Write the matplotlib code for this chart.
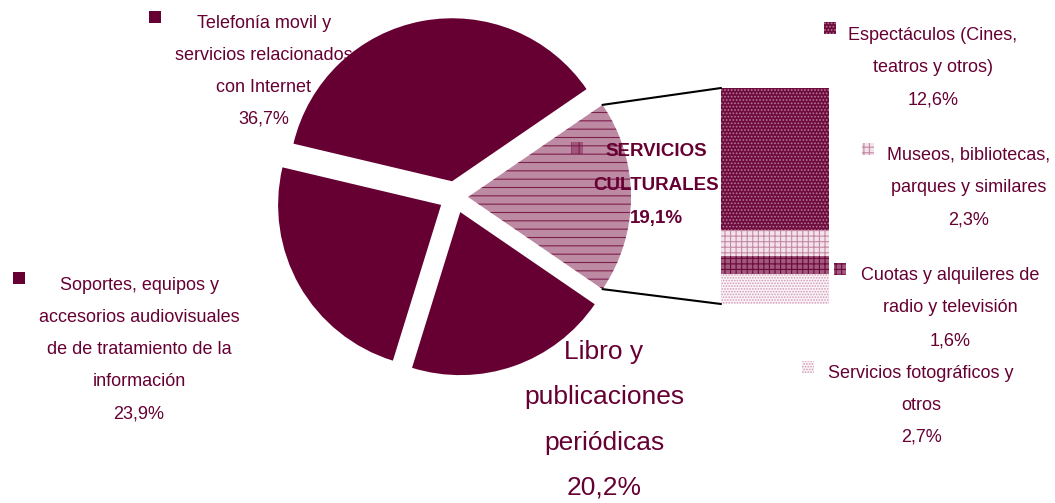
import matplotlib
matplotlib.use("Agg")
import matplotlib.pyplot as plt
import numpy as np
from matplotlib.patches import Rectangle, ConnectionPatch

# Pie: main groups of the spending
pie_labels = ["Telefonía movil y\nservicios relacionados\ncon Internet",
              "Soportes, equipos y\naccesorios audiovisuales\nde de tratamiento de la\ninformación",
              "Libro y\npublicaciones\nperiódicas",
              "SERVICIOS\nCULTURALES"]
pie_values = [36.7, 23.9, 20.2, 19.1]

# Bar: breakdown of "servicios culturales" (top to bottom)
bar_labels = ["Espectáculos (Cines,\nteatros y otros)",
              "Museos, bibliotecas,\nparques y similares",
              "Cuotas y alquileres de\nradio y televisión",
              "Servicios fotográficos y\notros"]
bar_values = [12.6, 2.3, 1.6, 2.7]

plt.rcParams["font.family"] = ["Liberation Sans", "DejaVu Sans"]
plt.rcParams["hatch.linewidth"] = 0.8

W, H = 1055, 503
maroon = "#660033"

fig = plt.figure(figsize=(W / 100, H / 100), dpi=100)
ax = fig.add_axes([0, 0, 1, 1])

# pixel layout, y measured from the top
cx, cy, rad = 455, 197, 163
half = pie_values[3] / sum(pie_values) * 360 / 2
wedges, _ = ax.pie(pie_values, center=(cx, cy), radius=rad,
                   colors=[maroon, maroon, maroon, "#bd8aa3"],
                   explode=[16, 16, 16, 13], startangle=-half,
                   counterclock=False, hatch=["", "", "", "--"], frame=True)
for w in wedges:
    w.set_linewidth(0)
wedges[3].set_edgecolor("#7d1f4d")
wedges[3].set_linewidth(0)

ax.set_xlim(0, W)
ax.set_ylim(H, 0)
ax.set_aspect("equal")
ax.axis("off")

# stacked bar for the exploded slice
bx0, by0, bw, bh = 721, 88, 108, 216
bax = fig.add_axes([bx0 / W, (H - by0 - bh) / H, bw / W, bh / H])
seg_styles = [("#6e0c3e", "#b57897", "....."),
              ("#f3e2ea", "#c48aa6", "+++"),
              ("#a3587d", "#6a0a3a", "+++"),
              ("#fbf3f7", "#cf9cb5", "......")]
bottom = 0
for val, (fc, ec, ht) in zip(bar_values[::-1], seg_styles[::-1]):
    bax.bar(0, val, width=1, bottom=bottom, color=fc, edgecolor=ec,
            hatch=ht, linewidth=0)
    bottom += val
bax.set_xlim(-0.5, 0.5)
bax.set_ylim(0, bottom)
bax.axis("off")

# connector lines from slice edges to bar corners
w = wedges[3]
for th, yb in [(w.theta1, 1), (w.theta2, 0)]:
    p = (w.center[0] + rad * np.cos(np.radians(th)),
         w.center[1] + rad * np.sin(np.radians(th)))
    con = ConnectionPatch(xyA=p, coordsA=ax.transData, xyB=(0, yb),
                          coordsB=bax.transAxes, color="black", lw=1.5)
    fig.add_artist(con)


def pct(v):
    return f"{v:.1f}".replace(".", ",") + "%"


def label(text, x, y0, step, size, weight="normal", z=0.5):
    for i, line in enumerate(text.split("\n")):
        ax.text(x, y0 + i * step, line, ha="center", va="center",
                fontsize=size, color=maroon, fontweight=weight, zorder=z)


def key(x, y, fc, ec=None, hatch=None, s=12):
    ax.add_patch(Rectangle((x - s / 2, y - s / 2), s, s, facecolor=fc,
                           edgecolor=ec if ec else fc, hatch=hatch,
                           linewidth=0, zorder=6))


# pie labels
label(pie_labels[0] + "\n" + pct(pie_values[0]), 264, 23, 32, 13)
key(155, 17, maroon)
label(pie_labels[1] + "\n" + pct(pie_values[1]), 139, 285, 32.3, 13)
key(19, 278, maroon)
label(pie_labels[2] + "\n" + pct(pie_values[2]), 604, 352, 45.3, 19)
label(pie_labels[3] + "\n" + pct(pie_values[3]), 656, 152, 33, 13.5,
      weight="bold", z=5)
key(577, 148, "#a0567a", "#7d1f4d", "++")

# bar labels
bar_pos = [(933, 35, 32.5), (969, 155, 32.5), (950, 275, 33), (921, 373, 32)]
key_pos = [(830, 28), (868, 149), (840, 269), (808, 367)]
for lab, val, (x, y, st), (kx, ky), (fc, ec, ht) in zip(
        bar_labels, bar_values, bar_pos, key_pos, seg_styles):
    label(lab + "\n" + pct(val), x, y, st, 13)
    key(kx, ky, fc, ec, ht)

fig.savefig("out.png", dpi=100)
